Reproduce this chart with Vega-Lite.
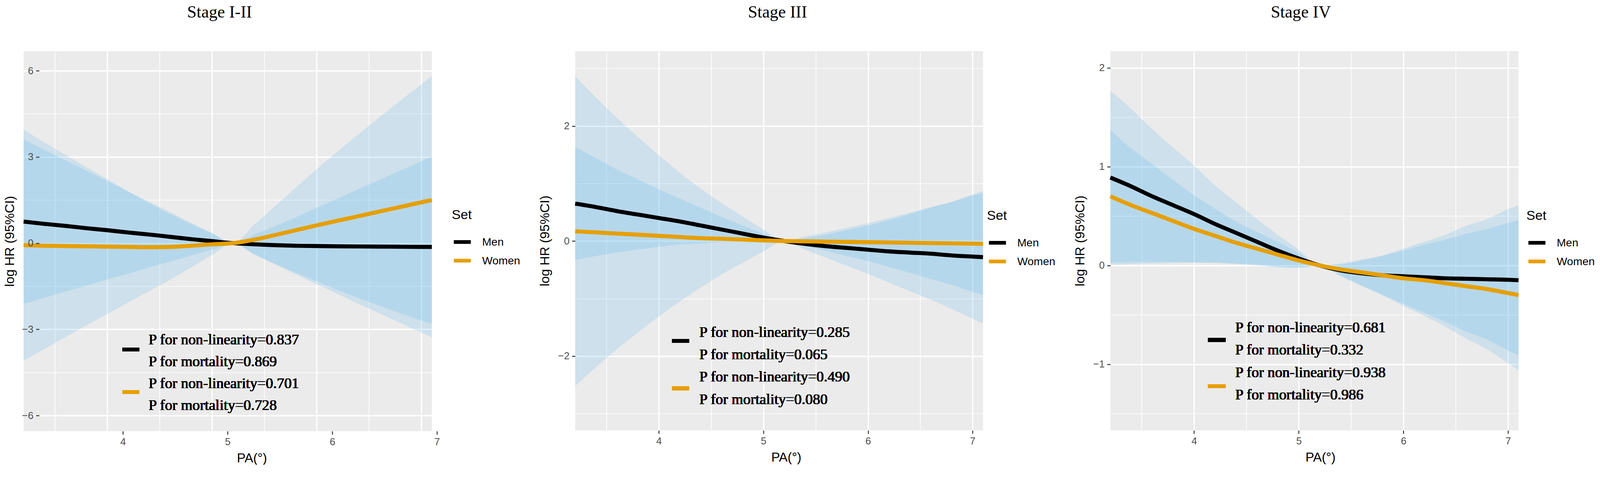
{
  "$schema": "https://vega.github.io/schema/vega-lite/v6.json",
  "background": "white",
  "padding": {"left": 8.5, "top": 10, "right": 0, "bottom": 0},
  "data": {
    "values": [
      {"stage": "I-II", "set": "Men", "pa": 3.2, "est": 0.75, "lo": -2.11, "hi": 3.61},
      {"stage": "I-II", "set": "Men", "pa": 3.4, "est": 0.67, "lo": -1.9, "hi": 3.24},
      {"stage": "I-II", "set": "Men", "pa": 3.6, "est": 0.6, "lo": -1.68, "hi": 2.88},
      {"stage": "I-II", "set": "Men", "pa": 3.8, "est": 0.52, "lo": -1.48, "hi": 2.52},
      {"stage": "I-II", "set": "Men", "pa": 4.0, "est": 0.45, "lo": -1.26, "hi": 2.16},
      {"stage": "I-II", "set": "Men", "pa": 4.2, "est": 0.37, "lo": -1.06, "hi": 1.8},
      {"stage": "I-II", "set": "Men", "pa": 4.4, "est": 0.3, "lo": -0.84, "hi": 1.44},
      {"stage": "I-II", "set": "Men", "pa": 4.6, "est": 0.22, "lo": -0.64, "hi": 1.08},
      {"stage": "I-II", "set": "Men", "pa": 4.8, "est": 0.14, "lo": -0.43, "hi": 0.71},
      {"stage": "I-II", "set": "Men", "pa": 5.0, "est": 0.07, "lo": -0.22, "hi": 0.36},
      {"stage": "I-II", "set": "Men", "pa": 5.2, "est": 0, "lo": 0, "hi": 0},
      {"stage": "I-II", "set": "Men", "pa": 5.4, "est": -0.04, "lo": -0.37, "hi": 0.29},
      {"stage": "I-II", "set": "Men", "pa": 5.6, "est": -0.07, "lo": -0.73, "hi": 0.59},
      {"stage": "I-II", "set": "Men", "pa": 5.8, "est": -0.09, "lo": -1.08, "hi": 0.9},
      {"stage": "I-II", "set": "Men", "pa": 6.0, "est": -0.1, "lo": -1.43, "hi": 1.23},
      {"stage": "I-II", "set": "Men", "pa": 6.2, "est": -0.11, "lo": -1.77, "hi": 1.55},
      {"stage": "I-II", "set": "Men", "pa": 6.4, "est": -0.115, "lo": -2.11, "hi": 1.88},
      {"stage": "I-II", "set": "Men", "pa": 6.6, "est": -0.12, "lo": -2.44, "hi": 2.2},
      {"stage": "I-II", "set": "Men", "pa": 6.8, "est": -0.125, "lo": -2.78, "hi": 2.53},
      {"stage": "I-II", "set": "Men", "pa": 7.0, "est": -0.13, "lo": -3.11, "hi": 2.85},
      {"stage": "I-II", "set": "Men", "pa": 7.1, "est": -0.13, "lo": -3.28, "hi": 3.02},
      {"stage": "I-II", "set": "Women", "pa": 3.2, "est": -0.07, "lo": -4.09, "hi": 3.95},
      {"stage": "I-II", "set": "Women", "pa": 3.4, "est": -0.09, "lo": -3.68, "hi": 3.5},
      {"stage": "I-II", "set": "Women", "pa": 3.6, "est": -0.1, "lo": -3.27, "hi": 3.07},
      {"stage": "I-II", "set": "Women", "pa": 3.8, "est": -0.11, "lo": -2.86, "hi": 2.64},
      {"stage": "I-II", "set": "Women", "pa": 4.0, "est": -0.12, "lo": -2.46, "hi": 2.22},
      {"stage": "I-II", "set": "Women", "pa": 4.2, "est": -0.13, "lo": -2.06, "hi": 1.8},
      {"stage": "I-II", "set": "Women", "pa": 4.4, "est": -0.14, "lo": -1.67, "hi": 1.39},
      {"stage": "I-II", "set": "Women", "pa": 4.6, "est": -0.13, "lo": -1.27, "hi": 1.01},
      {"stage": "I-II", "set": "Women", "pa": 4.8, "est": -0.09, "lo": -0.84, "hi": 0.66},
      {"stage": "I-II", "set": "Women", "pa": 5.0, "est": -0.04, "lo": -0.41, "hi": 0.33},
      {"stage": "I-II", "set": "Women", "pa": 5.2, "est": 0, "lo": 0, "hi": 0},
      {"stage": "I-II", "set": "Women", "pa": 5.4, "est": 0.12, "lo": -0.39, "hi": 0.63},
      {"stage": "I-II", "set": "Women", "pa": 5.6, "est": 0.28, "lo": -0.72, "hi": 1.28},
      {"stage": "I-II", "set": "Women", "pa": 5.8, "est": 0.45, "lo": -1.03, "hi": 1.93},
      {"stage": "I-II", "set": "Women", "pa": 6.0, "est": 0.62, "lo": -1.33, "hi": 2.57},
      {"stage": "I-II", "set": "Women", "pa": 6.2, "est": 0.78, "lo": -1.63, "hi": 3.19},
      {"stage": "I-II", "set": "Women", "pa": 6.4, "est": 0.94, "lo": -1.91, "hi": 3.79},
      {"stage": "I-II", "set": "Women", "pa": 6.6, "est": 1.1, "lo": -2.18, "hi": 4.38},
      {"stage": "I-II", "set": "Women", "pa": 6.8, "est": 1.26, "lo": -2.44, "hi": 4.96},
      {"stage": "I-II", "set": "Women", "pa": 7.0, "est": 1.42, "lo": -2.69, "hi": 5.53},
      {"stage": "I-II", "set": "Women", "pa": 7.1, "est": 1.5, "lo": -2.81, "hi": 5.81},
      {"stage": "III", "set": "Men", "pa": 3.2, "est": 0.65, "lo": -0.33, "hi": 1.63},
      {"stage": "III", "set": "Men", "pa": 3.4, "est": 0.59, "lo": -0.26, "hi": 1.44},
      {"stage": "III", "set": "Men", "pa": 3.6, "est": 0.52, "lo": -0.2, "hi": 1.24},
      {"stage": "III", "set": "Men", "pa": 3.8, "est": 0.46, "lo": -0.15, "hi": 1.07},
      {"stage": "III", "set": "Men", "pa": 4.0, "est": 0.4, "lo": -0.1, "hi": 0.9},
      {"stage": "III", "set": "Men", "pa": 4.2, "est": 0.34, "lo": -0.06, "hi": 0.74},
      {"stage": "III", "set": "Men", "pa": 4.4, "est": 0.27, "lo": -0.04, "hi": 0.58},
      {"stage": "III", "set": "Men", "pa": 4.6, "est": 0.2, "lo": -0.02, "hi": 0.42},
      {"stage": "III", "set": "Men", "pa": 4.8, "est": 0.13, "lo": -0.01, "hi": 0.27},
      {"stage": "III", "set": "Men", "pa": 5.0, "est": 0.06, "lo": -0.01, "hi": 0.13},
      {"stage": "III", "set": "Men", "pa": 5.2, "est": 0, "lo": 0, "hi": 0},
      {"stage": "III", "set": "Men", "pa": 5.4, "est": -0.05, "lo": -0.15, "hi": 0.05},
      {"stage": "III", "set": "Men", "pa": 5.6, "est": -0.09, "lo": -0.29, "hi": 0.11},
      {"stage": "III", "set": "Men", "pa": 5.8, "est": -0.12, "lo": -0.43, "hi": 0.19},
      {"stage": "III", "set": "Men", "pa": 6.0, "est": -0.15, "lo": -0.57, "hi": 0.27},
      {"stage": "III", "set": "Men", "pa": 6.2, "est": -0.18, "lo": -0.72, "hi": 0.36},
      {"stage": "III", "set": "Men", "pa": 6.4, "est": -0.2, "lo": -0.87, "hi": 0.47},
      {"stage": "III", "set": "Men", "pa": 6.6, "est": -0.22, "lo": -1.02, "hi": 0.58},
      {"stage": "III", "set": "Men", "pa": 6.8, "est": -0.25, "lo": -1.18, "hi": 0.68},
      {"stage": "III", "set": "Men", "pa": 7.0, "est": -0.27, "lo": -1.35, "hi": 0.81},
      {"stage": "III", "set": "Men", "pa": 7.1, "est": -0.28, "lo": -1.43, "hi": 0.87},
      {"stage": "III", "set": "Women", "pa": 3.2, "est": 0.17, "lo": -2.52, "hi": 2.86},
      {"stage": "III", "set": "Women", "pa": 3.4, "est": 0.15, "lo": -2.19, "hi": 2.49},
      {"stage": "III", "set": "Women", "pa": 3.6, "est": 0.13, "lo": -1.88, "hi": 2.14},
      {"stage": "III", "set": "Women", "pa": 3.8, "est": 0.11, "lo": -1.59, "hi": 1.81},
      {"stage": "III", "set": "Women", "pa": 4.0, "est": 0.09, "lo": -1.31, "hi": 1.49},
      {"stage": "III", "set": "Women", "pa": 4.2, "est": 0.07, "lo": -1.05, "hi": 1.19},
      {"stage": "III", "set": "Women", "pa": 4.4, "est": 0.05, "lo": -0.81, "hi": 0.91},
      {"stage": "III", "set": "Women", "pa": 4.6, "est": 0.04, "lo": -0.58, "hi": 0.66},
      {"stage": "III", "set": "Women", "pa": 4.8, "est": 0.025, "lo": -0.38, "hi": 0.43},
      {"stage": "III", "set": "Women", "pa": 5.0, "est": 0.012, "lo": -0.18, "hi": 0.2},
      {"stage": "III", "set": "Women", "pa": 5.2, "est": 0, "lo": 0, "hi": 0},
      {"stage": "III", "set": "Women", "pa": 5.4, "est": -0.005, "lo": -0.09, "hi": 0.08},
      {"stage": "III", "set": "Women", "pa": 5.6, "est": -0.01, "lo": -0.17, "hi": 0.15},
      {"stage": "III", "set": "Women", "pa": 5.8, "est": -0.015, "lo": -0.26, "hi": 0.23},
      {"stage": "III", "set": "Women", "pa": 6.0, "est": -0.02, "lo": -0.35, "hi": 0.31},
      {"stage": "III", "set": "Women", "pa": 6.2, "est": -0.025, "lo": -0.45, "hi": 0.4},
      {"stage": "III", "set": "Women", "pa": 6.4, "est": -0.03, "lo": -0.55, "hi": 0.49},
      {"stage": "III", "set": "Women", "pa": 6.6, "est": -0.035, "lo": -0.66, "hi": 0.59},
      {"stage": "III", "set": "Women", "pa": 6.8, "est": -0.04, "lo": -0.76, "hi": 0.68},
      {"stage": "III", "set": "Women", "pa": 7.0, "est": -0.045, "lo": -0.88, "hi": 0.79},
      {"stage": "III", "set": "Women", "pa": 7.1, "est": -0.048, "lo": -0.93, "hi": 0.83},
      {"stage": "IV", "set": "Men", "pa": 3.2, "est": 0.89, "lo": 0.01, "hi": 1.77},
      {"stage": "IV", "set": "Men", "pa": 3.4, "est": 0.8, "lo": 0.015, "hi": 1.585},
      {"stage": "IV", "set": "Men", "pa": 3.6, "est": 0.7, "lo": 0.02, "hi": 1.38},
      {"stage": "IV", "set": "Men", "pa": 3.8, "est": 0.61, "lo": 0.025, "hi": 1.195},
      {"stage": "IV", "set": "Men", "pa": 4.0, "est": 0.52, "lo": 0.03, "hi": 1.01},
      {"stage": "IV", "set": "Men", "pa": 4.2, "est": 0.42, "lo": 0.03, "hi": 0.81},
      {"stage": "IV", "set": "Men", "pa": 4.4, "est": 0.33, "lo": 0.02, "hi": 0.64},
      {"stage": "IV", "set": "Men", "pa": 4.6, "est": 0.24, "lo": 0.01, "hi": 0.47},
      {"stage": "IV", "set": "Men", "pa": 4.8, "est": 0.15, "lo": -0.01, "hi": 0.31},
      {"stage": "IV", "set": "Men", "pa": 5.0, "est": 0.07, "lo": -0.02, "hi": 0.16},
      {"stage": "IV", "set": "Men", "pa": 5.2, "est": 0, "lo": 0, "hi": 0},
      {"stage": "IV", "set": "Men", "pa": 5.4, "est": -0.05, "lo": -0.11, "hi": 0.01},
      {"stage": "IV", "set": "Men", "pa": 5.6, "est": -0.08, "lo": -0.21, "hi": 0.05},
      {"stage": "IV", "set": "Men", "pa": 5.8, "est": -0.1, "lo": -0.3, "hi": 0.1},
      {"stage": "IV", "set": "Men", "pa": 6.0, "est": -0.11, "lo": -0.39, "hi": 0.17},
      {"stage": "IV", "set": "Men", "pa": 6.2, "est": -0.12, "lo": -0.48, "hi": 0.24},
      {"stage": "IV", "set": "Men", "pa": 6.4, "est": -0.13, "lo": -0.57, "hi": 0.31},
      {"stage": "IV", "set": "Men", "pa": 6.6, "est": -0.135, "lo": -0.67, "hi": 0.4},
      {"stage": "IV", "set": "Men", "pa": 6.8, "est": -0.14, "lo": -0.75, "hi": 0.47},
      {"stage": "IV", "set": "Men", "pa": 7.0, "est": -0.145, "lo": -0.86, "hi": 0.57},
      {"stage": "IV", "set": "Men", "pa": 7.1, "est": -0.15, "lo": -0.91, "hi": 0.61},
      {"stage": "IV", "set": "Women", "pa": 3.2, "est": 0.7, "lo": 0.03, "hi": 1.37},
      {"stage": "IV", "set": "Women", "pa": 3.4, "est": 0.61, "lo": 0.035, "hi": 1.185},
      {"stage": "IV", "set": "Women", "pa": 3.6, "est": 0.53, "lo": 0.035, "hi": 1.025},
      {"stage": "IV", "set": "Women", "pa": 3.8, "est": 0.45, "lo": 0.035, "hi": 0.865},
      {"stage": "IV", "set": "Women", "pa": 4.0, "est": 0.37, "lo": 0.03, "hi": 0.71},
      {"stage": "IV", "set": "Women", "pa": 4.2, "est": 0.3, "lo": 0.025, "hi": 0.575},
      {"stage": "IV", "set": "Women", "pa": 4.4, "est": 0.23, "lo": 0.015, "hi": 0.445},
      {"stage": "IV", "set": "Women", "pa": 4.6, "est": 0.17, "lo": 0.0, "hi": 0.34},
      {"stage": "IV", "set": "Women", "pa": 4.8, "est": 0.11, "lo": -0.02, "hi": 0.24},
      {"stage": "IV", "set": "Women", "pa": 5.0, "est": 0.05, "lo": -0.025, "hi": 0.125},
      {"stage": "IV", "set": "Women", "pa": 5.2, "est": 0, "lo": 0, "hi": 0},
      {"stage": "IV", "set": "Women", "pa": 5.4, "est": -0.04, "lo": -0.1, "hi": 0.02},
      {"stage": "IV", "set": "Women", "pa": 5.6, "est": -0.07, "lo": -0.2, "hi": 0.06},
      {"stage": "IV", "set": "Women", "pa": 5.8, "est": -0.1, "lo": -0.3, "hi": 0.1},
      {"stage": "IV", "set": "Women", "pa": 6.0, "est": -0.13, "lo": -0.41, "hi": 0.15},
      {"stage": "IV", "set": "Women", "pa": 6.2, "est": -0.15, "lo": -0.51, "hi": 0.21},
      {"stage": "IV", "set": "Women", "pa": 6.4, "est": -0.18, "lo": -0.62, "hi": 0.26},
      {"stage": "IV", "set": "Women", "pa": 6.6, "est": -0.21, "lo": -0.74, "hi": 0.32},
      {"stage": "IV", "set": "Women", "pa": 6.8, "est": -0.24, "lo": -0.85, "hi": 0.37},
      {"stage": "IV", "set": "Women", "pa": 7.0, "est": -0.28, "lo": -0.99, "hi": 0.43},
      {"stage": "IV", "set": "Women", "pa": 7.1, "est": -0.3, "lo": -1.06, "hi": 0.46}
    ]
  },
  "spacing": 45,
  "resolve": {"scale": {"color": "independent"}, "legend": {"color": "independent"}},
  "hconcat": [
    {
      "title": {"text": "Stage I-II", "offset": 76.4, "dx": -21},
      "width": 1045,
      "height": 973,
      "transform": [{"filter": "datum.stage === 'I-II'"}],
      "layer": [
        {
          "mark": {"type": "area", "color": "#56B4E9", "opacity": 0.2, "interpolate": "monotone"},
          "encoding": {
            "x": {"field": "pa", "type": "quantitative", "scale": {"domain": [3.2, 7.1], "nice": false, "zero": false},
              "axis": {"orient": "bottom", "values": [3.5, 4, 4.5, 5, 5.5, 6, 6.5, 7], "grid": true, "gridWidth": {"condition": {"test": "datum.value % 1 === 0", "value": 3.3}, "value": 1.7}, "labels": false, "ticks": false, "domain": false, "title": null, "zindex": 0}},
            "y": {"field": "lo", "type": "quantitative", "scale": {"domain": [-6.54, 6.68], "nice": false, "zero": false},
              "axis": {"orient": "left", "values": [-6, -4.5, -3, -1.5, 0, 1.5, 3, 4.5, 6], "grid": true, "gridWidth": {"condition": {"test": "datum.value % 3 === 0", "value": 3.3}, "value": 1.7}, "labels": false, "ticks": false, "domain": false, "title": null, "zindex": 0}},
            "y2": {"field": "hi"},
            "detail": {"field": "set"}
          }
        },
        {
          "mark": {"type": "line", "strokeWidth": 10.4, "interpolate": "monotone"},
          "encoding": {
            "x": {"field": "pa", "type": "quantitative", "axis": {"orient": "bottom", "values": [4, 5, 6, 7], "grid": false, "tickOffset": 39.8, "title": "PA(°)", "titleX": 584, "titleY": 69.2, "titleBaseline": "middle", "zindex": 1}},
            "y": {"field": "est", "type": "quantitative", "axis": {"orient": "left", "values": [-6, -3, 0, 3, 6], "grid": false, "offset": -39.8, "title": "log HR (95%CI)", "zindex": 1}},
            "color": {"field": "set", "type": "nominal", "scale": {"domain": ["Men", "Women"], "range": ["#000000", "#E69F00"]}, "legend": {"title": "Set", "legendX": 1096, "legendY": 403}}
          }
        },
        {
          "mark": {"type": "text", "align": "left", "baseline": "middle", "font": "Liberation Serif", "fontSize": 37.9, "lineHeight": 55.9, "color": "#000000"},
          "encoding": {
            "x": {"datum": 4.394, "type": "quantitative", "axis": null},
            "y": {"datum": -3.38, "type": "quantitative", "axis": null},
            "text": {"value": ["P for non-linearity=0.837", "P for mortality=0.869", "P for non-linearity=0.701", "P for mortality=0.728"]}
          }
        },
        {
          "mark": {"type": "rule", "strokeWidth": 10, "color": "#000000", "strokeCap": "butt"},
          "encoding": {"x": {"datum": 4.143, "type": "quantitative", "axis": null}, "x2": {"datum": 4.306}, "y": {"datum": -3.7, "type": "quantitative", "axis": null}}
        },
        {
          "mark": {"type": "rule", "strokeWidth": 10, "color": "#E69F00", "strokeCap": "butt"},
          "encoding": {"x": {"datum": 4.143, "type": "quantitative", "axis": null}, "x2": {"datum": 4.306}, "y": {"datum": -5.18, "type": "quantitative", "axis": null}}
        }
      ],
      "resolve": {"axis": {"x": "independent", "y": "independent"}}
    },
    {
      "title": {"text": "Stage III", "offset": 76.4, "dx": -4},
      "width": 1044,
      "height": 971,
      "transform": [{"filter": "datum.stage === 'III'"}],
      "layer": [
        {
          "mark": {"type": "area", "color": "#56B4E9", "opacity": 0.2, "interpolate": "monotone"},
          "encoding": {
            "x": {"field": "pa", "type": "quantitative", "scale": {"domain": [3.2, 7.1], "nice": false, "zero": false},
              "axis": {"orient": "bottom", "values": [3.5, 4, 4.5, 5, 5.5, 6, 6.5, 7], "grid": true, "gridWidth": {"condition": {"test": "datum.value % 1 === 0", "value": 3.3}, "value": 1.7}, "labels": false, "ticks": false, "domain": false, "title": null, "zindex": 0}},
            "y": {"field": "lo", "type": "quantitative", "scale": {"domain": [-3.29, 3.3], "nice": false, "zero": false},
              "axis": {"orient": "left", "values": [-3, -2, -1, 0, 1, 2, 3], "grid": true, "gridWidth": {"condition": {"test": "datum.value % 2 === 0", "value": 3.3}, "value": 1.7}, "labels": false, "ticks": false, "domain": false, "title": null, "zindex": 0}},
            "y2": {"field": "hi"},
            "detail": {"field": "set"}
          }
        },
        {
          "mark": {"type": "line", "strokeWidth": 10.4, "interpolate": "monotone"},
          "encoding": {
            "x": {"field": "pa", "type": "quantitative", "axis": {"orient": "bottom", "values": [4, 5, 6, 7], "grid": false, "title": "PA(°)", "titleX": 540, "titleY": 69.2, "titleBaseline": "middle", "zindex": 1}},
            "y": {"field": "est", "type": "quantitative", "axis": {"orient": "left", "values": [-2, 0, 2], "grid": false, "title": "log HR (95%CI)", "titlePadding": 16.1, "zindex": 1}},
            "color": {"field": "set", "type": "nominal", "scale": {"domain": ["Men", "Women"], "range": ["#000000", "#E69F00"]}, "legend": {"title": "Set", "legendX": 1054, "legendY": 405}}
          }
        },
        {
          "mark": {"type": "text", "align": "left", "baseline": "middle", "font": "Liberation Serif", "fontSize": 37.9, "lineHeight": 57.4, "color": "#000000"},
          "encoding": {
            "x": {"datum": 4.387, "type": "quantitative", "axis": null},
            "y": {"datum": -1.59, "type": "quantitative", "axis": null},
            "text": {"value": ["P for non-linearity=0.285", "P for mortality=0.065", "P for non-linearity=0.490", "P for mortality=0.080"]}
          }
        },
        {
          "mark": {"type": "rule", "strokeWidth": 10, "color": "#000000", "strokeCap": "butt"},
          "encoding": {"x": {"datum": 4.125, "type": "quantitative", "axis": null}, "x2": {"datum": 4.289}, "y": {"datum": -1.736, "type": "quantitative", "axis": null}}
        },
        {
          "mark": {"type": "rule", "strokeWidth": 10, "color": "#E69F00", "strokeCap": "butt"},
          "encoding": {"x": {"datum": 4.125, "type": "quantitative", "axis": null}, "x2": {"datum": 4.289}, "y": {"datum": -2.56, "type": "quantitative", "axis": null}}
        }
      ],
      "resolve": {"axis": {"x": "independent", "y": "independent"}}
    },
    {
      "title": {"text": "Stage IV", "offset": 76.4, "dx": -35},
      "width": 1045,
      "height": 971,
      "transform": [{"filter": "datum.stage === 'IV'"}],
      "layer": [
        {
          "mark": {"type": "area", "color": "#56B4E9", "opacity": 0.2, "interpolate": "monotone"},
          "encoding": {
            "x": {"field": "pa", "type": "quantitative", "scale": {"domain": [3.2, 7.1], "nice": false, "zero": false},
              "axis": {"orient": "bottom", "values": [3.5, 4, 4.5, 5, 5.5, 6, 6.5, 7], "grid": true, "gridWidth": {"condition": {"test": "datum.value % 1 === 0", "value": 3.3}, "value": 1.7}, "labels": false, "ticks": false, "domain": false, "title": null, "zindex": 0}},
            "y": {"field": "lo", "type": "quantitative", "scale": {"domain": [-1.67, 2.17], "nice": false, "zero": false},
              "axis": {"orient": "left", "values": [-1.5, -1, -0.5, 0, 0.5, 1, 1.5, 2], "grid": true, "gridWidth": {"condition": {"test": "datum.value % 1 === 0", "value": 3.3}, "value": 1.7}, "labels": false, "ticks": false, "domain": false, "title": null, "zindex": 0}},
            "y2": {"field": "hi"},
            "detail": {"field": "set"}
          }
        },
        {
          "mark": {"type": "line", "strokeWidth": 10.4, "interpolate": "monotone"},
          "encoding": {
            "x": {"field": "pa", "type": "quantitative", "axis": {"orient": "bottom", "values": [4, 5, 6, 7], "grid": false, "title": "PA(°)", "titleX": 537.5, "titleY": 69.2, "titleBaseline": "middle", "zindex": 1}},
            "y": {"field": "est", "type": "quantitative", "axis": {"orient": "left", "values": [-1, 0, 1, 2], "grid": false, "title": "log HR (95%CI)", "titlePadding": 16.1, "zindex": 1}},
            "color": {"field": "set", "type": "nominal", "scale": {"domain": ["Men", "Women"], "range": ["#000000", "#E69F00"]}, "legend": {"title": "Set", "legendX": 1065, "legendY": 405}}
          }
        },
        {
          "mark": {"type": "text", "align": "left", "baseline": "middle", "font": "Liberation Serif", "fontSize": 37.9, "lineHeight": 57.4, "color": "#000000"},
          "encoding": {
            "x": {"datum": 4.393, "type": "quantitative", "axis": null},
            "y": {"datum": -0.633, "type": "quantitative", "axis": null},
            "text": {"value": ["P for non-linearity=0.681", "P for mortality=0.332", "P for non-linearity=0.938", "P for mortality=0.986"]}
          }
        },
        {
          "mark": {"type": "rule", "strokeWidth": 10, "color": "#000000", "strokeCap": "butt"},
          "encoding": {"x": {"datum": 4.133, "type": "quantitative", "axis": null}, "x2": {"datum": 4.302}, "y": {"datum": -0.754, "type": "quantitative", "axis": null}}
        },
        {
          "mark": {"type": "rule", "strokeWidth": 10, "color": "#E69F00", "strokeCap": "butt"},
          "encoding": {"x": {"datum": 4.133, "type": "quantitative", "axis": null}, "x2": {"datum": 4.302}, "y": {"datum": -1.223, "type": "quantitative", "axis": null}}
        }
      ],
      "resolve": {"axis": {"x": "independent", "y": "independent"}}
    }
  ],
  "config": {
    "view": {"fill": "#EBEBEB", "stroke": null},
    "axis": {
      "labelFont": "Liberation Sans", "labelFontSize": 25.6, "labelColor": "#4D4D4D", "labelPadding": 6.6,
      "titleFont": "Liberation Sans", "titleFontSize": 33.2, "titleFontWeight": "normal", "titleColor": "#000000", "titlePadding": 13.3,
      "tickColor": "#333333", "tickWidth": 2.4, "tickSize": 8.5, "domain": false, "gridColor": "#FFFFFF", "gridOpacity": 1
    },
    "legend": {
      "orient": "none", "padding": 0,
      "titleFont": "Liberation Sans", "titleFontSize": 34.1, "titleFontWeight": "normal", "titleColor": "#000000", "titlePadding": 24.6,
      "labelFont": "Liberation Sans", "labelFontSize": 28.4, "labelColor": "#000000", "labelOffset": 23.7,
      "symbolType": "stroke", "symbolStrokeWidth": 9.5, "symbolSize": 1901, "rowPadding": 1.9, "symbolOpacity": 1
    },
    "title": {"font": "Liberation Serif", "fontSize": 43.6, "fontWeight": "normal", "color": "#000000", "anchor": "middle"}
  }
}
